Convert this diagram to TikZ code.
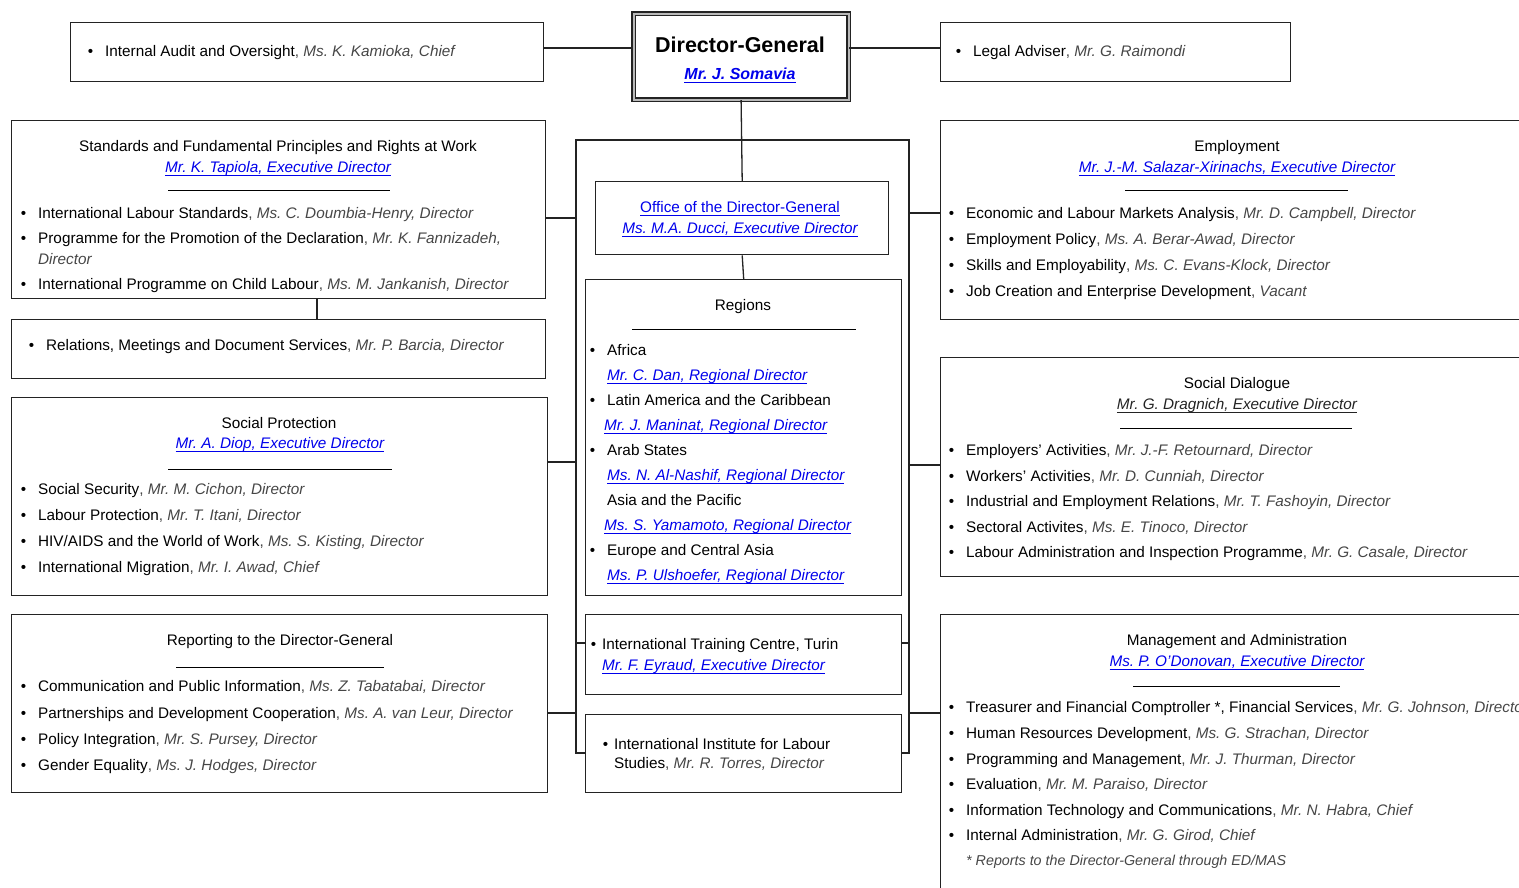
\documentclass[tikz,border=0pt]{standalone}
\usepackage{fontspec}
\setmainfont{Liberation Sans}
\usepackage{tikz}
\definecolor{colline}{RGB}{35,35,35}
\definecolor{colname}{RGB}{70,70,70}
\definecolor{colink}{RGB}{0,0,235}
\usetikzlibrary{
	positioning
}
\frenchspacing
\newcommand{\ullink}[1]{\setbox0=\hbox{#1}\rlap{\copy0}\rule[-3pt]{\wd0}{1.3pt}}
\newcommand{\unitline}[2]{#1\textcolor{colname}{, \textit{#2}}}
\newcommand{\blt}{\llap{\textbullet\hspace{12pt}}}
\newcommand{\bltn}{\llap{\textbullet\hspace{6pt}}}
\tikzset{
	orgbox/.style={draw=colline, line width=1.4pt, inner sep=0pt, anchor=north west},
	dgbox/.style={orgbox, line width=1.2pt, double=gray!55, double distance=2pt},
	txt/.style={inner sep=0pt, yshift=-2.5pt, text height=1.5ex, text depth=.25ex, font=\fontsize{15.3}{18}\selectfont},
	item/.style={txt, anchor=west},
	link/.style={txt, text=colink, font=\fontsize{15.3}{18}\selectfont\itshape},
	wire/.style={draw=colline, line width=1.3pt},
	sepline/.style={draw=black, line width=0.9pt}
}

\begin{document}
\begin{tikzpicture}[x=1pt, y=-1pt]
	\useasboundingbox (0,0) rectangle (1519,888);
	\clip (0,0) rectangle (1519,888);

	\node[dgbox, minimum width=215pt, minimum height=86pt] (dg) at (633,13) {};
	\node[txt, font=\fontsize{21.5}{24}\selectfont\bfseries] (dg-t) at (740,47) {Director-General};
	\node[link, font=\fontsize{16}{18}\selectfont\bfseries\itshape] (dg-n) at (740,74) {\ullink{Mr. J. Somavia}};

	\node[orgbox, minimum width=473pt, minimum height=59pt] (audit) at (70,22) {};
	\node[item] (audit-t) at (105,51) {\blt\unitline{Internal Audit and Oversight}{Ms. K. Kamioka, Chief}};
	\node[orgbox, minimum width=350pt, minimum height=59pt] (legal) at (940,22) {};
	\node[item] (legal-t) at (973,51) {\blt\unitline{Legal Adviser}{Mr. G. Raimondi}};

	\node[orgbox, minimum width=534pt, minimum height=178pt] (std) at (11,120) {};
	\node[txt] (std-t) at (278,146) {Standards and Fundamental Principles and Rights at Work};
	\node[link] (std-n) at (278,167) {\ullink{Mr. K. Tapiola, Executive Director}};
	\draw[sepline] (168,190) -- (390,190);
	\node[item] (std-0) at (38,213) {\blt\unitline{International Labour Standards}{Ms. C. Doumbia-Henry, Director}};
	\node[item] (std-1) at (38,238) {\blt\unitline{Programme for the Promotion of the Declaration}{Mr. K. Fannizadeh,}};
	\node[item, text=colname, font=\fontsize{15.3}{18}\selectfont\itshape] (std-1b) at (38,259) {Director};
	\node[item] (std-2) at (38,284) {\blt\unitline{International Programme on Child Labour}{Ms. M. Jankanish, Director}};

	\node[orgbox, minimum width=534pt, minimum height=59pt] (rel) at (11,319) {};
	\node[item] (rel-t) at (46,345) {\blt\unitline{Relations, Meetings and Document Services}{Mr. P. Barcia, Director}};

	\node[orgbox, minimum width=536pt, minimum height=198pt] (soc) at (11,397) {};
	\node[txt] (soc-t) at (279,423) {Social Protection};
	\node[link] (soc-n) at (280,443) {\ullink{Mr. A. Diop, Executive Director}};
	\draw[sepline] (168,469) -- (392,469);
	\foreach \unit/\head [count=\i from 0] in {
		{Social Security}/{Mr. M. Cichon, Director},
		{Labour Protection}/{Mr. T. Itani, Director},
		{HIV/AIDS and the World of Work}/{Ms. S. Kisting, Director},
		{International Migration}/{Mr. I. Awad, Chief}} {
		\node[item] (soc-\i) at (38,489+26*\i) {\blt\unitline{\unit}{\head}};
	}

	\node[orgbox, minimum width=536pt, minimum height=178pt] (rep) at (11,614) {};
	\node[txt] (rep-t) at (280,640) {Reporting to the Director-General};
	\draw[sepline] (176,667) -- (384,667);
	\foreach \unit/\head [count=\i from 0] in {
		{Communication and Public Information}/{Ms. Z. Tabatabai, Director},
		{Partnerships and Development Cooperation}/{Ms. A. van Leur, Director},
		{Policy Integration}/{Mr. S. Pursey, Director},
		{Gender Equality}/{Ms. J. Hodges, Director}} {
		\node[item] (rep-\i) at (38,686+26.3*\i) {\blt\unitline{\unit}{\head}};
	}

	\node[orgbox, minimum width=293pt, minimum height=73pt] (office) at (595,181) {};
	\node[link, font=\fontsize{15.3}{18}\selectfont] (office-t) at (740,207) {\ullink{Office of the Director-General}};
	\node[link] (office-n) at (740,228) {\ullink{Ms. M.A. Ducci, Executive Director}};

	\node[orgbox, minimum width=316pt, minimum height=316pt] (reg) at (585,279) {};
	\node[txt] (reg-t) at (743,305) {Regions};
	\draw[sepline] (632,329) -- (856,329);
	\foreach \area/\head/\hx/\bmark [count=\i from 0] in {
		Africa/{Mr. C. Dan, Regional Director}/607/\blt,
		{Latin America and the Caribbean}/{Mr. J. Maninat, Regional Director}/604/\blt,
		{Arab States}/{Ms. N. Al-Nashif, Regional Director}/607/\blt,
		{Asia and the Pacific}/{Ms. S. Yamamoto, Regional Director}/604/{},
		{Europe and Central Asia}/{Ms. P. Ulshoefer, Regional Director}/607/\blt} {
		\node[item] (reg-\i) at (607,350+50*\i) {\bmark\area};
		\node[link, anchor=west] (reg-\i-n) at (\hx,375+50*\i) {\ullink{\head}};
	}

	\node[orgbox, minimum width=316pt, minimum height=80pt] (trn) at (585,614) {};
	\node[item] (trn-t) at (602,644) {\bltn International Training Centre, Turin};
	\node[link, anchor=west] (trn-n) at (602,665) {\ullink{Mr. F. Eyraud, Executive Director}};

	\node[orgbox, minimum width=316pt, minimum height=78pt] (iils) at (585,714) {};
	\node[item] (iils-t) at (614,744) {\bltn International Institute for Labour};
	\node[item] (iils-t2) at (614,763) {\unitline{Studies}{Mr. R. Torres, Director}};

	\node[orgbox, minimum width=600pt, minimum height=199pt] (emp) at (940,120) {};
	\node[txt] (emp-t) at (1237,146) {Employment};
	\node[link] (emp-n) at (1237,167) {\ullink{Mr. J.-M. Salazar-Xirinachs, Executive Director}};
	\draw[sepline] (1125,190) -- (1348,190);
	\foreach \unit/\head [count=\i from 0] in {
		{Economic and Labour Markets Analysis}/{Mr. D. Campbell, Director},
		{Employment Policy}/{Ms. A. Berar-Awad, Director},
		{Skills and Employability}/{Ms. C. Evans-Klock, Director},
		{Job Creation and Enterprise Development}/{Vacant}} {
		\node[item] (emp-\i) at (966,213+26*\i) {\blt\unitline{\unit}{\head}};
	}

	\node[orgbox, minimum width=600pt, minimum height=219pt] (dial) at (940,357) {};
	\node[txt] (dial-t) at (1237,383) {Social Dialogue};
	\node[link, text=colline] (dial-n) at (1237,404) {\ullink{Mr. G. Dragnich, Executive Director}};
	\draw[sepline] (1120,428) -- (1352,428);
	\foreach \unit/\head [count=\i from 0] in {
		{Employers' Activities}/{Mr. J.-F. Retournard, Director},
		{Workers' Activities}/{Mr. D. Cunniah, Director},
		{Industrial and Employment Relations}/{Mr. T. Fashoyin, Director},
		{Sectoral Activites}/{Ms. E. Tinoco, Director},
		{Labour Administration and Inspection Programme}/{Mr. G. Casale, Director}} {
		\node[item] (dial-\i) at (966,450+25.5*\i) {\blt\unitline{\unit}{\head}};
	}

	\node[orgbox, minimum width=600pt, minimum height=300pt] (mgmt) at (940,614) {};
	\node[txt] (mgmt-t) at (1237,640) {Management and Administration};
	\node[link] (mgmt-n) at (1237,661) {\ullink{Ms. P. O'Donovan, Executive Director}};
	\draw[sepline] (1133,686) -- (1340,686);
	\foreach \unit/\head [count=\i from 0] in {
		{Treasurer and Financial Comptroller *, Financial Services}/{Mr. G. Johnson, Director},
		{Human Resources Development}/{Ms. G. Strachan, Director},
		{Programming and Management}/{Mr. J. Thurman, Director},
		{Evaluation}/{Mr. M. Paraiso, Director},
		{Information Technology and Communications}/{Mr. N. Habra, Chief},
		{Internal Administration}/{Mr. G. Girod, Chief}} {
		\node[item] (mgmt-\i) at (966,707+25.6*\i) {\blt\unitline{\unit}{\head}};
	}
	\node[item, text=colname, font=\fontsize{14.3}{18}\selectfont\itshape] (mgmt-note) at (966,860) {* Reports to the Director-General through ED/MAS};

	\coordinate (jtop) at (0,48);
	\coordinate (lbus) at (576,140);
	\coordinate (rbus) at (909,140);
	\coordinate (jtrn) at (0,643);
	\coordinate (jiils) at (0,753);
	\coordinate (jrel) at (317,0);
	\draw[wire] (jtop -| audit.east) -- (jtop -| dg.west);
	\draw[wire] (jtop -| dg.east) -- (jtop -| legal.west);
	\draw[wire] (dg.south) -- (office.north);
	\draw[wire] (office.south) -- (reg.north);
	\draw[wire] (jiils -| iils.west) -- (jiils -| lbus) -- (lbus) -- (rbus) -- (jiils -| rbus) -- (jiils -| iils.east);
	\draw[wire] (jtrn -| lbus) -- (jtrn -| trn.west);
	\draw[wire] (jtrn -| trn.east) -- (jtrn -| rbus);
	\draw[wire] (jrel |- std.south) -- (jrel |- rel.north);
	\foreach \bx/\y in {std/218, soc/462, rep/713} {
		\coordinate (jb) at (0,\y);
		\draw[wire] (jb -| \bx.east) -- (jb -| lbus);
	}
	\foreach \bx/\y in {emp/213, dial/465, mgmt/713} {
		\coordinate (jb) at (0,\y);
		\draw[wire] (jb -| rbus) -- (jb -| \bx.west);
	}
\end{tikzpicture}
\end{document}
